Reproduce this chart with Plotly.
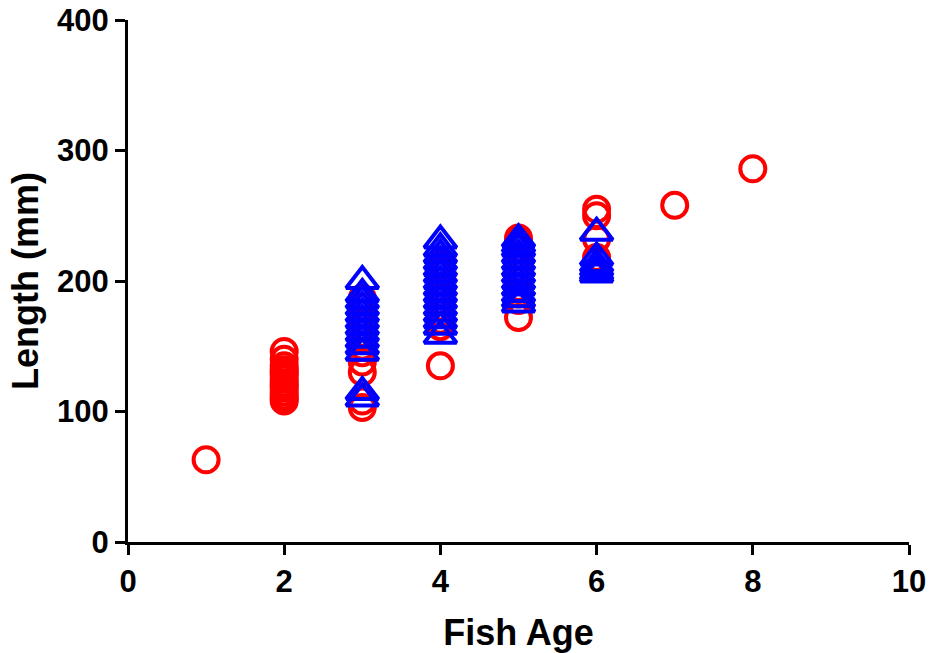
import plotly.graph_objects as go

# Red circles group
red_age = [1] + [2]*14 + [3]*14 + [4]*13 + [5]*12 + [6]*5 + [7, 8]
red_len = [63,
           108, 110, 112, 115, 118, 120, 122, 125, 128, 130, 132, 135, 140, 146,
           103, 108, 130, 138, 145, 150, 155, 160, 165, 170, 175, 180, 185, 187,
           135, 165, 170, 175, 180, 185, 190, 195, 200, 205, 208, 212, 215,
           172, 185, 190, 195, 200, 205, 210, 215, 220, 225, 230, 233,
           215, 218, 232, 250, 255,
           258, 286]

# Blue triangles group
blue_age = [3]*13 + [4]*15 + [5]*12 + [6]*6
blue_len = [110, 115, 145, 150, 155, 160, 165, 170, 175, 180, 185, 190, 200,
            158, 165, 170, 175, 180, 185, 190, 195, 200, 205, 210, 215, 220, 225, 231,
            182, 186, 190, 195, 200, 205, 210, 215, 220, 225, 228, 232,
            205, 207, 210, 213, 218, 237]

x_ticks = [0, 2, 4, 6, 8, 10]
y_ticks = [0, 100, 200, 300, 400]

FONT = "Liberation Sans, Arial"

fig = go.Figure()
fig.add_trace(go.Scatter(x=red_age, y=red_len, mode="markers",
                         marker=dict(symbol="circle-open", size=25, color="#ff0000",
                                     line=dict(width=4, color="#ff0000")),
                         showlegend=False, cliponaxis=False))
fig.add_trace(go.Scatter(x=blue_age, y=blue_len, mode="markers",
                         marker=dict(symbol="triangle-up-open", size=28, color="#0000ff",
                                     line=dict(width=4, color="#0000ff")),
                         showlegend=False, cliponaxis=False))

axis_common = dict(showgrid=False, zeroline=False, showline=True, linecolor="black",
                   linewidth=3, ticks="outside", ticklen=10, tickwidth=3, tickcolor="black",
                   automargin=False, ticklabeloverflow="allow",
                   tickfont=dict(family=FONT, size=31, color="black", weight="bold"))

fig.update_xaxes(range=[0, 10], tickvals=x_ticks, ticktext=[str(t) for t in x_ticks],
                 title=dict(text="<b>Fish Age</b>", font=dict(family=FONT, size=36, color="black"), standoff=22),
                 **axis_common)
fig.update_yaxes(range=[0, 400], tickvals=y_ticks, ticktext=[str(t) for t in y_ticks],
                 title=dict(text="<b>Length (mm)</b>", font=dict(family=FONT, size=36, color="black"), standoff=8),
                 **axis_common)

fig.update_layout(width=929, height=653, plot_bgcolor="white", paper_bgcolor="white",
                  margin=dict(l=128, r=20, t=20, b=111))

fig.write_html("out.html", config={"displayModeBar": False},
               post_script="document.body.style.margin='0';document.body.style.overflow='hidden';")
